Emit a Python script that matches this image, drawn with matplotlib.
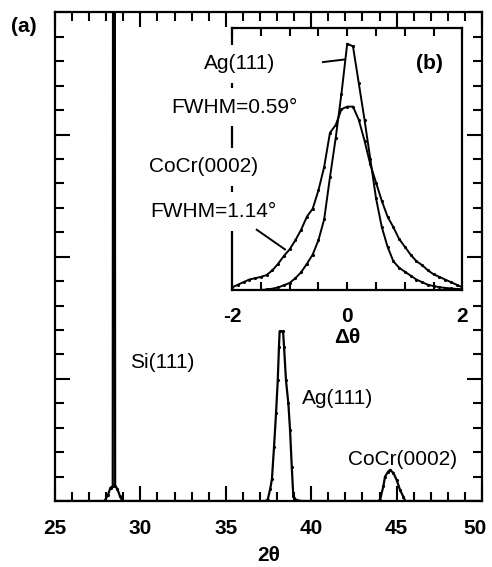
import numpy as np
import matplotlib
matplotlib.use('Agg')
import matplotlib.pyplot as plt
import matplotlib.transforms as mtransforms
from matplotlib.ticker import MultipleLocator, NullFormatter, FixedLocator

plt.rcParams['font.family'] = ['Liberation Sans', 'DejaVu Sans']
plt.rcParams['axes.unicode_minus'] = False

# main scan, 2theta vs intensity (arb. units, Si peak runs off scale)
two_theta = [25.0, 27.9, 28.1, 28.25, 28.38, 28.43, 28.47, 28.52, 28.65, 28.8, 28.95,
             37.3, 37.45, 37.6, 37.7, 37.82, 37.94, 38.04, 38.11, 38.15, 38.35, 38.41,
             38.52, 38.66, 38.76, 38.86, 38.95, 39.1, 39.4,
             43.9, 44.03, 44.22, 44.32, 44.5, 44.61, 44.81, 45.0, 45.2, 45.39, 45.5, 50.0]
intensity = [0, 0, 0.25, 0.55, 0.6, 60, 60, 0.6, 0.5, 0.2, 0,
             0, 0.05, 0.5, 0.9, 2.2, 3.6, 4.95, 6.3, 6.95, 6.95, 6.3,
             4.95, 4.0, 2.9, 1.4, 0.2, 0.05, 0,
             0, 0.05, 0.6, 1.0, 1.2, 1.27, 1.15, 0.86, 0.45, 0.18, 0, 0]
xtick_vals = [25, 30, 35, 40, 45, 50]
xtick_text = ['25', '30', '35', '40', '45', '50']

# rocking curves (inset)
dtheta = [-2.0, -1.9, -1.8, -1.7, -1.6, -1.5, -1.4, -1.3, -1.2, -1.1, -1.0,
          -0.9, -0.8, -0.7, -0.6, -0.5, -0.4, -0.3, -0.2, -0.1, 0.0,
          0.1, 0.2, 0.3, 0.4, 0.5, 0.6, 0.7, 0.8, 0.9, 1.0,
          1.1, 1.2, 1.3, 1.4, 1.5, 1.6, 1.7, 1.8, 1.9, 2.0]
ag_rock = [0.0, 0.0, 0.0, 0.0, 0.0, 0.0, 0.002, 0.005, 0.01, 0.018, 0.027,
           0.045, 0.068, 0.10, 0.135, 0.19, 0.27, 0.43, 0.58, 0.75, 0.94,
           0.93, 0.79, 0.65, 0.50, 0.35, 0.24, 0.165, 0.11, 0.085, 0.07,
           0.055, 0.04, 0.03, 0.02, 0.015, 0.011, 0.008, 0.006, 0.004, 0.003]
cocr_rock = [0.01, 0.02, 0.03, 0.04, 0.045, 0.05, 0.057, 0.075, 0.10, 0.13, 0.155,
             0.19, 0.23, 0.28, 0.31, 0.38, 0.47, 0.60, 0.63, 0.69, 0.70,
             0.70, 0.65, 0.57, 0.48, 0.41, 0.34, 0.28, 0.24, 0.195, 0.165,
             0.135, 0.11, 0.095, 0.075, 0.06, 0.05, 0.04, 0.03, 0.02, 0.01]

fig = plt.figure(figsize=(4.92, 5.67), dpi=100)
ax = fig.add_axes([0.1118, 0.1164, 0.868, 0.8616])

ax.plot(two_theta, intensity, color='black', lw=1.6, marker='.', ms=2.5)
ax.set_xlim(25, 50)
ax.set_ylim(0, 20)

ax.set_xticks(xtick_vals, xtick_text)
ax.xaxis.set_minor_locator(MultipleLocator(1))
ax.yaxis.set_major_locator(MultipleLocator(5))
ax.yaxis.set_minor_locator(MultipleLocator(1))
ax.yaxis.set_major_formatter(NullFormatter())
ax.tick_params(which='both', direction='in', top=True, right=True, width=1.5)
ax.tick_params(which='major', length=11)
ax.tick_params(which='minor', length=6.5)
ax.tick_params(axis='x', which='major', pad=13, labelsize=15)
for sp in ax.spines.values():
    sp.set_linewidth(1.6)
ax.set_xlabel('2θ', fontsize=15, fontweight='bold', labelpad=6)

# nudge the 50 so it stays inside the picture
shift = mtransforms.ScaledTranslation(-5 / 72, 0, fig.dpi_scale_trans)
for lbl in ax.get_xticklabels():
    lbl.set_fontweight('bold')
    if lbl.get_text() == '50':
        lbl.set_transform(lbl.get_transform() + shift)

ax.text(31.26, 5.66, 'Si(111)', fontsize=15, ha='center', va='center')
ax.text(41.57, 4.18, 'Ag(111)', fontsize=15, ha='center', va='center')
ax.text(45.32, 1.68, 'CoCr(0002)', fontsize=15, ha='center', va='center')
fig.text(0.049, 0.954, '(a)', fontsize=15, fontweight='bold', ha='center', va='center')

# inset (b)
ins = fig.add_axes([0.4715, 0.4885, 0.4685, 0.4621])
ins.plot(dtheta, ag_rock, color='black', lw=1.4, marker='.', ms=2.5)
ins.plot(dtheta, cocr_rock, color='black', lw=1.4, marker='.', ms=2.5)
ins.set_xlim(-2, 2)
ins.set_ylim(0, 1)
ins.xaxis.set_major_locator(FixedLocator([-2, 0, 2]))
ins.xaxis.set_minor_locator(MultipleLocator(0.5))
ins.set_yticks([])
ins.tick_params(which='both', direction='in', top=True, width=1.5, length=6)
ins.tick_params(axis='x', which='major', pad=12, labelsize=15)
for lbl in ins.get_xticklabels():
    lbl.set_fontweight('bold')
for sp in ins.spines.values():
    sp.set_linewidth(1.6)
ins.set_xlabel('Δθ', fontsize=15, fontweight='bold', labelpad=2)

box = dict(facecolor='white', edgecolor='none', pad=7)
ins.text(-1.86, 0.863, 'Ag(111)', fontsize=15, ha='center', va='center',
         bbox=box, clip_on=False, zorder=5)
ins.text(-1.965, 0.698, 'FWHM=0.59°', fontsize=15, ha='center', va='center',
         bbox=box, clip_on=False, zorder=5)
ins.text(-2.50, 0.47, 'CoCr(0002)', fontsize=15, ha='center', va='center',
         bbox=box, clip_on=False, zorder=5)
ins.text(-2.32, 0.30, 'FWHM=1.14°', fontsize=15, ha='center', va='center',
         bbox=box, clip_on=False, zorder=5)
ins.plot([-0.42, -0.04], [0.87, 0.88], color='black', lw=1.4, zorder=6)
ins.plot([-1.57, -1.08], [0.23, 0.155], color='black', lw=1.4, zorder=6)
ins.text(1.43, 0.863, '(b)', fontsize=15, fontweight='bold', ha='center', va='center')

fig.savefig('out.png', dpi=100)
